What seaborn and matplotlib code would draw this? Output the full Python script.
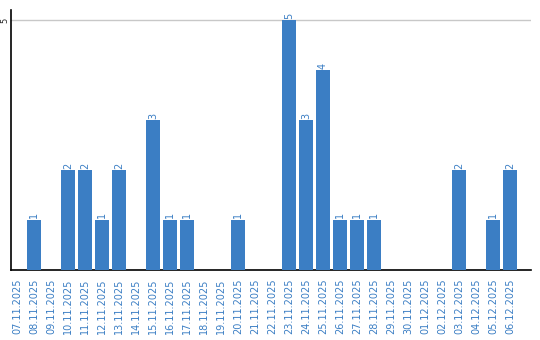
import matplotlib
matplotlib.use("Agg")
import matplotlib.pyplot as plt
import seaborn as sns
import pandas as pd

dates = ["07.11.2025", "08.11.2025", "09.11.2025", "10.11.2025", "11.11.2025",
         "12.11.2025", "13.11.2025", "14.11.2025", "15.11.2025", "16.11.2025",
         "17.11.2025", "18.11.2025", "19.11.2025", "20.11.2025", "21.11.2025",
         "22.11.2025", "23.11.2025", "24.11.2025", "25.11.2025", "26.11.2025",
         "27.11.2025", "28.11.2025", "29.11.2025", "30.11.2025", "01.12.2025",
         "02.12.2025", "03.12.2025", "04.12.2025", "05.12.2025", "06.12.2025"]
counts = [0, 1, 0, 2, 2, 1, 2, 0, 3, 1, 1, 0, 0, 1, 0,
          0, 5, 3, 4, 1, 1, 1, 0, 0, 0, 0, 2, 0, 1, 2]

df = pd.DataFrame({"date": dates, "count": counts})
blue = "#3b7ec4"

sns.set_style("white")
plt.rcParams['font.family'] = ['DejaVu Sans']

fig = plt.figure(figsize=(5.4, 3.4), dpi=100)
ax = fig.add_axes([11/540, 70/340, 520/540, 260/340])

sns.barplot(data=df, x="date", y="count", color=blue, width=0.82,
            saturation=1, ax=ax, zorder=3, linewidth=0)

ax.set_ylim(0, 5.2)
ax.set_xlim(-0.353, 30.24)
ax.set_yticks([5])
ax.set_yticklabels(["5"], rotation=90, va="center", fontsize=6)
ax.yaxis.grid(True, color="#c8c8c8", linewidth=1, zorder=0)
ax.set_axisbelow(True)
ax.tick_params(axis="y", length=0, pad=1)
ax.tick_params(axis="x", length=0, pad=6)
ax.set_xticks(range(len(dates)))
ax.set_xticklabels(dates, rotation=90, fontsize=7, color=blue)
ax.set_xlabel("")
ax.set_ylabel("")

for s in ["top", "right"]:
    ax.spines[s].set_visible(False)
for s in ["left", "bottom"]:
    ax.spines[s].set_color("black")
    ax.spines[s].set_linewidth(1.2)

for i, v in enumerate(counts):
    if v > 0:
        ax.text(i, v + 0.03, str(v), rotation=90, ha="center", va="bottom",
                fontsize=7, color=blue)

fig.savefig("out.png", dpi=100)
